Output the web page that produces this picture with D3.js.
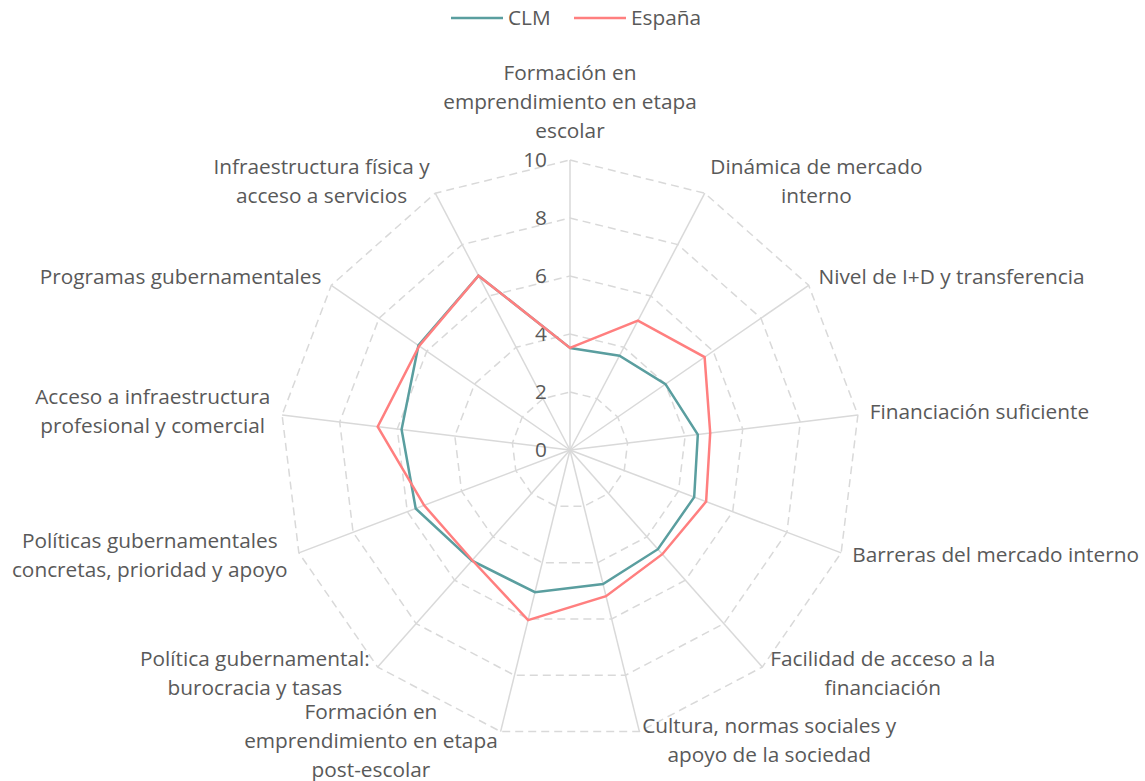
<!DOCTYPE html>
<html>
<head>
<meta charset="utf-8">
<script src="https://cdn.jsdelivr.net/npm/d3@7"></script>
<style>
  html, body { margin: 0; padding: 0; background: #ffffff; }
  svg { display: block; font-family: "Open Sans", "Noto Sans", sans-serif; }
</style>
</head>
<body>
<svg id="chart" width="1145" height="781"></svg>
<script>
const categories = [
  ["Formación en", "emprendimiento en etapa", "escolar"],
  ["Dinámica de mercado", "interno"],
  ["Nivel de I+D y transferencia"],
  ["Financiación suficiente"],
  ["Barreras del mercado interno"],
  ["Facilidad de acceso a la", "financiación"],
  ["Cultura, normas sociales y", "apoyo de la sociedad"],
  ["Formación en", "emprendimiento en etapa", "post-escolar"],
  ["Política gubernamental:", "burocracia y tasas"],
  ["Políticas gubernamentales", "concretas, prioridad y apoyo"],
  ["Acceso a infraestructura", "profesional y comercial"],
  ["Programas gubernamentales"],
  ["Infraestructura física y", "acceso a servicios"]
];
const seriesNames = ["CLM", "España"];
const clmValues =    [3.52, 3.67, 4.00, 4.44, 4.58, 4.57, 4.76, 5.05, 5.10, 5.69, 5.85, 6.35, 6.79];
const espanaValues = [3.52, 5.04, 5.64, 4.87, 5.02, 4.80, 5.19, 6.04, 5.08, 5.38, 6.68, 6.32, 6.79];
const tickValues = [0, 2, 4, 6, 8, 10];

const colors = { "CLM": "#5a9e9f", "España": "#ff7f7f" };
const textColor = "#595959";
const gridColor = "#d9d9d9";
const fs = 20.8;

const svg = d3.select("#chart");
const cx = 570, cy = 450, R = 290;
const n = categories.length;
const r = d3.scaleLinear().domain([0, 10]).range([0, R]);
const angle = d3.scaleLinear().domain([0, n]).range([0, 2 * Math.PI]);
const pt = (i, v) => [cx + r(v) * Math.sin(angle(i)), cy - r(v) * Math.cos(angle(i))];

const g = svg.append("g");

// spokes
categories.forEach((c, i) => {
  const [x, y] = pt(i, 10);
  g.append("line").attr("x1", cx).attr("y1", cy).attr("x2", x).attr("y2", y)
    .attr("stroke", gridColor).attr("stroke-width", 1.5);
});

// dashed rings
tickValues.filter(t => t > 0).forEach(t => {
  const pts = d3.range(n).map(i => pt(i, t));
  g.append("path").attr("d", d3.line()(pts) + "Z")
    .attr("fill", "none").attr("stroke", gridColor).attr("stroke-width", 1.5)
    .attr("stroke-dasharray", "8,5");
});

// tick labels
tickValues.forEach(t => {
  g.append("text").attr("x", cx - 23).attr("y", cy - r(t)).attr("dy", "0.35em")
    .attr("text-anchor", "end").attr("font-size", fs).attr("fill", textColor).text(t);
});

// series
const lineGen = d3.line();
[[seriesNames[0], clmValues], [seriesNames[1], espanaValues]].forEach(([name, vals]) => {
  const pts = vals.map((v, i) => pt(i, v));
  g.append("path").attr("d", lineGen(pts) + "Z")
    .attr("fill", "none").attr("stroke", colors[name]).attr("stroke-width", 2.5)
    .attr("stroke-linejoin", "miter");
});

// category labels
const lh = 29;
categories.forEach((lines, i) => {
  const a = angle(i);
  const s = Math.sin(a), c = Math.cos(a);
  const [ex, ey] = pt(i, 10);
  const grp = g.append("g");
  const texts = lines.map(l => grp.append("text").attr("font-size", fs).attr("fill", textColor)
      .attr("text-anchor", "middle").text(l));
  const w = d3.max(texts, t => t.node().getComputedTextLength());
  const h = lines.length * lh;
  let bx, centerY;
  if (Math.abs(s) < 0.1) {
    bx = ex;
    centerY = ey - 15 - h / 2;
  } else {
    const off = 12 * Math.abs(s);
    bx = s > 0 ? ex + off + w / 2 : ex - off - w / 2;
    centerY = ey - 2 - 11 * c;
  }
  texts.forEach((t, k) => {
    t.attr("x", bx).attr("y", centerY - h / 2 + lh * k + lh / 2).attr("dy", "0.35em");
  });
});

// legend
const legend = svg.append("g");
const legendItems = [
  { name: seriesNames[0], x: 451 },
  { name: seriesNames[1], x: 574 }
];
legendItems.forEach(d => {
  legend.append("line").attr("x1", d.x).attr("x2", d.x + 52).attr("y1", 18).attr("y2", 18)
    .attr("stroke", colors[d.name]).attr("stroke-width", 2.5);
  legend.append("text").attr("x", d.x + 57).attr("y", 18).attr("dy", "0.35em")
    .attr("font-size", fs).attr("fill", textColor).text(d.name);
});
</script>
</body>
</html>
